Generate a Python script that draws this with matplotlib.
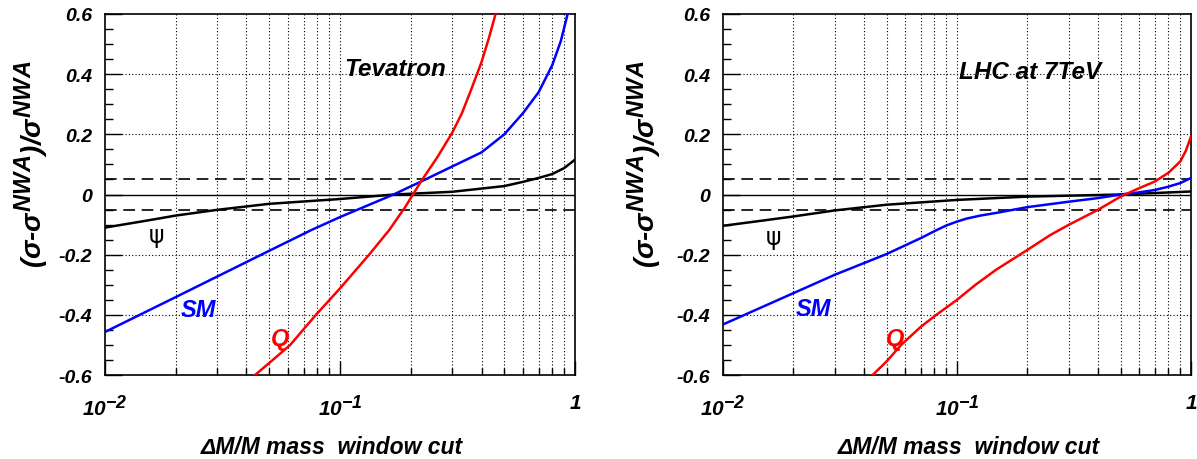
import matplotlib
matplotlib.use("Agg")
import matplotlib.pyplot as plt
import matplotlib._mathtext as _mt

# ROOT draws its superscripts nearly full size
_mt.SHRINK_FACTOR = 0.85

plt.rcParams['font.family'] = ['Liberation Sans', 'DejaVu Sans']
plt.rcParams['mathtext.fontset'] = 'custom'
plt.rcParams['mathtext.rm'] = 'Liberation Sans:bold:italic'
plt.rcParams['mathtext.it'] = 'Liberation Sans:bold:italic'
plt.rcParams['mathtext.bf'] = 'Liberation Sans:bold:italic'

# --- Tevatron panel values ---
tev_psi_x = [0.01, 0.015, 0.02, 0.03, 0.05, 0.1, 0.17, 0.3, 0.5, 0.6, 0.7, 0.8, 0.9, 1.0]
tev_psi_y = [-0.11, -0.087, -0.07, -0.051, -0.031, -0.015, 0.0, 0.009, 0.028, 0.042, 0.055, 0.068, 0.088, 0.116]
tev_sm_x = [0.01, 0.02, 0.05, 0.0756, 0.1, 0.169, 0.221, 0.3, 0.4, 0.5, 0.6, 0.7, 0.8, 0.87, 0.93]
tev_sm_y = [-0.457, -0.341, -0.187, -0.118, -0.075, 0.0, 0.043, 0.093, 0.14, 0.2, 0.27, 0.34, 0.43, 0.51, 0.6]
tev_q_x = [0.0435, 0.05, 0.0614, 0.0714, 0.079, 0.1, 0.133, 0.162, 0.19, 0.221, 0.26, 0.3, 0.33, 0.36, 0.4,
           0.43, 0.459]
tev_q_y = [-0.6, -0.56, -0.5, -0.44, -0.4, -0.312, -0.2, -0.118, -0.04, 0.043, 0.125, 0.205, 0.27, 0.345,
           0.44, 0.52, 0.6]

# --- LHC 7 TeV panel values ---
lhc_psi_x = [0.01, 0.015, 0.02, 0.03, 0.05, 0.1, 0.2, 0.5, 1.0]
lhc_psi_y = [-0.104, -0.086, -0.073, -0.053, -0.034, -0.018, -0.007, 0.0, 0.01]
lhc_sm_x = [0.01, 0.03, 0.05, 0.07, 0.081, 0.09, 0.1, 0.11, 0.126, 0.15, 0.2, 0.3, 0.4, 0.5, 0.6, 0.7, 0.8, 0.9, 1.0]
lhc_sm_y = [-0.432, -0.267, -0.198, -0.145, -0.12, -0.103, -0.09, -0.08, -0.07, -0.06, -0.042, -0.024, -0.012,
            0.0, 0.007, 0.015, 0.026, 0.038, 0.055]
lhc_q_x = [0.0436, 0.05, 0.0577, 0.07, 0.08, 0.1, 0.12, 0.147, 0.2, 0.25, 0.3, 0.4, 0.5, 0.6, 0.7, 0.8, 0.9,
           0.95, 1.0]
lhc_q_y = [-0.6, -0.555, -0.5, -0.44, -0.405, -0.35, -0.3, -0.25, -0.184, -0.135, -0.101, -0.051, -0.007,
           0.021, 0.043, 0.072, 0.11, 0.145, 0.193]

panel_titles = ['Tevatron', 'LHC at 7TeV']
x_tick_vals = [0.01, 0.1, 1]
x_tick_labels = [r'$10^{-2}$', r'$10^{-1}$', '1']
y_tick_vals = [0.6, 0.4, 0.2, 0.0, -0.2, -0.4, -0.6]
y_tick_labels = ['0.6', '0.4', '0.2', '0', '-0.2', '-0.4', '-0.6']
x_minor = [k * 0.01 for k in range(2, 10)] + [k * 0.1 for k in range(2, 10)]
y_minor = [i * 0.05 - 0.6 for i in range(25)]
band = 0.05

panels = [
    dict(psi=(tev_psi_x, tev_psi_y), sm=(tev_sm_x, tev_sm_y), q=(tev_q_x, tev_q_y),
         title=panel_titles[0], title_pos=(0.104, 0.42),
         psi_pos=(0.0166, -0.134), sm_pos=(0.0249, -0.381), q_pos=(0.0555, -0.479),
         xlab_x=0.482, ylab_x=-0.155),
    dict(psi=(lhc_psi_x, lhc_psi_y), sm=(lhc_sm_x, lhc_sm_y), q=(lhc_q_x, lhc_q_y),
         title=panel_titles[1], title_pos=(0.102, 0.41),
         psi_pos=(0.0165, -0.14), sm_pos=(0.0244, -0.378), q_pos=(0.0545, -0.478),
         xlab_x=0.526, ylab_x=-0.168),
]

fig = plt.figure(figsize=(11.97, 4.6), dpi=100)
rects = [[0.0877, 0.1826, 0.3927, 0.7848], [0.604, 0.1826, 0.391, 0.7848]]

bi = dict(fontweight='bold', fontstyle='italic')

for rect, p in zip(rects, panels):
    ax = fig.add_axes(rect)
    ax.set_xscale('log')
    ax.set_xlim(0.01, 1)
    ax.set_ylim(-0.6, 0.6)

    # grid
    for xv in x_minor + [0.1]:
        ax.axvline(xv, color='black', ls=(0, (1, 2)), lw=0.8, zorder=1)
    for yv in [-0.4, -0.2, 0.2, 0.4]:
        ax.axhline(yv, color='black', ls=(0, (1, 2)), lw=0.8, zorder=1)
    ax.axhline(0, color='black', lw=1.0, zorder=2)
    ax.axhline(band, color='black', lw=1.2, ls=(0, (7, 4)), zorder=2)
    ax.axhline(-band, color='black', lw=1.2, ls=(0, (7, 4)), zorder=2)

    ax.plot(*p['psi'], color='black', lw=1.8, zorder=3)
    ax.plot(*p['sm'], color='#0000ff', lw=1.8, zorder=3)
    ax.plot(*p['q'], color='#ff0000', lw=1.8, zorder=3)

    ax.text(*p['title_pos'], p['title'], fontsize=17.5, ha='left', va='center', **bi)
    ax.text(*p['psi_pos'], 'ψ', fontsize=17, ha='center', va='center',
            family=['DejaVu Sans'], color='black')
    ax.text(*p['sm_pos'], 'SM', fontsize=17, ha='center', va='center', color='#0000ff', **bi)
    ax.text(*p['q_pos'], 'Q', fontsize=17, ha='center', va='center', color='#ff0000', **bi)

    ax.set_xticks(x_tick_vals)
    ax.set_xticklabels(x_tick_labels)
    ax.set_xticks(x_minor, minor=True)
    ax.xaxis.set_minor_formatter(plt.NullFormatter())
    ax.set_yticks(y_tick_vals)
    ax.set_yticklabels(y_tick_labels)
    ax.set_yticks(y_minor, minor=True)
    ax.tick_params(axis='both', which='both', direction='in', top=False, right=False)
    ax.tick_params(axis='x', which='major', length=10, width=1, pad=13, labelsize=15)
    ax.tick_params(axis='x', which='minor', length=5, width=1)
    ax.tick_params(axis='y', which='major', length=12, width=1, pad=9, labelsize=14)
    ax.tick_params(axis='y', which='minor', length=6, width=1)
    for lab in ax.get_xticklabels() + ax.get_yticklabels():
        lab.set_fontweight('bold')
        lab.set_fontstyle('italic')
    for s in ax.spines.values():
        s.set_linewidth(1.2)

    ax.text(p['xlab_x'], -0.197, 'ΔM/M mass  window cut', transform=ax.transAxes,
            fontsize=16.5, ha='center', va='center', **bi)
    ax.text(p['ylab_x'], 0.875, r'($\sigma$-$\sigma^{NWA}$)/$\sigma^{NWA}$', transform=ax.transAxes,
            fontsize=20, rotation=90, ha='center', va='top', **bi)

fig.savefig('out.png', dpi=100)
